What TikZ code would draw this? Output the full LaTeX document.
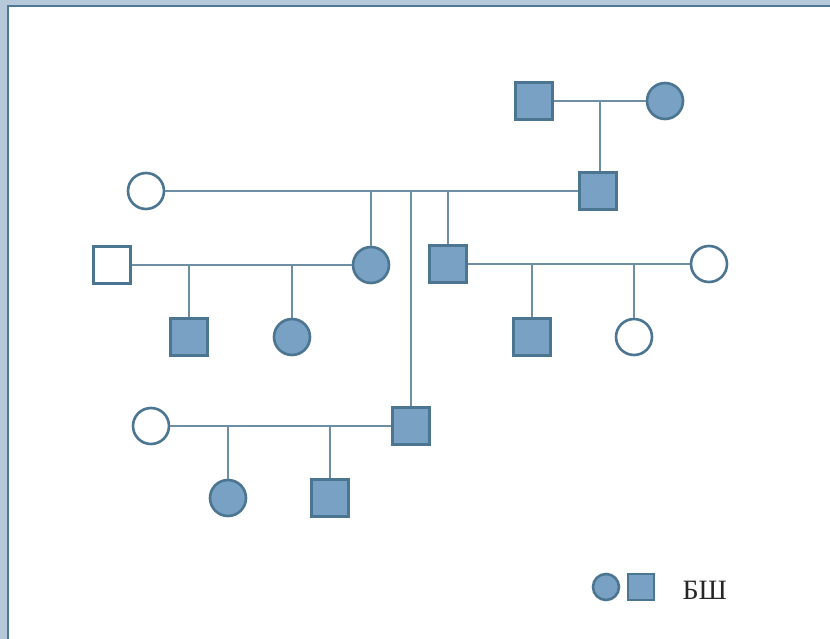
\documentclass[tikz,border=0pt]{standalone}
\usepackage{fontspec}
\newfontfamily\legendfont{Liberation Serif}
\definecolor{symfill}{HTML}{79A1C3}
\definecolor{symedge}{HTML}{4B7591}
\definecolor{linkcol}{HTML}{6E8FA3}
\definecolor{bandcol}{HTML}{B5C9DB}
\definecolor{framecol}{HTML}{4E7894}
\tikzset{
  male/.style={draw=symedge, line width=2.8pt, minimum size=36.5pt, inner sep=0pt},
  female/.style={circle, draw=symedge, line width=2.6pt, minimum size=36pt, inner sep=0pt},
  aff/.style={fill=symfill},
  open/.style={fill=white},
  link/.style={draw=linkcol, line width=1.2pt},
}
\begin{document}
\begin{tikzpicture}[x=1pt,y=-1pt]
% page frame
\fill[bandcol] (0,0) rectangle (830,639);
\fill[framecol] (7,5) rectangle (830,639);
\fill[white] (9,7) rectangle (830,639);
\useasboundingbox (0,0) rectangle (830,639);

% generation I
\node[male,aff] (gf) at (534,101) {};
\node[female,aff] (gm) at (665,101) {};
\coordinate (gc) at (600,101);
% generation II
\node[male,aff] (f) at (598,191) {};
\node[female,open] (m) at (146,191) {};
% generation III
\node[female,aff] (s1) at (371,265) {};
\node[male,aff] (b1) at (448,264) {};
\node[male,open] (s1h) at (112,265) {};
\node[female,open] (b1w) at (709,264) {};
% generation IV
\node[male,aff] (c1) at (189,337) {};
\node[female,aff] (c2) at (292,337) {};
\node[male,aff] (c3) at (532,337) {};
\node[female,open] (c4) at (634,337) {};
\node[male,aff] (p) at (411,426) {};
\node[female,open] (pw) at (151,426) {};
% generation V
\node[female,aff] (d1) at (228,498) {};
\node[male,aff] (d2) at (330,498) {};

% connectors
\path[link] (gf) -- (gm);
\path[link] (gc) -- (f.north -| gc);
\path[link] (m) -- (f);
\path[link] (s1 |- m) -- (s1);
\path[link] (b1 |- m) -- (b1);
\path[link] (p |- m) -- (p);
\path[link] (s1h) -- (s1);
\path[link] (c1 |- s1h) -- (c1);
\path[link] (c2 |- s1h) -- (c2);
\path[link] (b1) -- (b1w);
\path[link] (c3 |- b1) -- (c3);
\path[link] (c4 |- b1) -- (c4);
\path[link] (pw) -- (p);
\path[link] (d1 |- pw) -- (d1);
\path[link] (d2 |- pw) -- (d2);

% legend
\node[female,aff,minimum size=26pt] (lc) at (606,587) {};
\node[male,aff,minimum size=26pt] (ls) at (641,587) {};
\node[anchor=west, text=black!85, font=\legendfont\fontsize{28}{30}\selectfont] (lt) at (679,590) {БШ};
\end{tikzpicture}
\end{document}
